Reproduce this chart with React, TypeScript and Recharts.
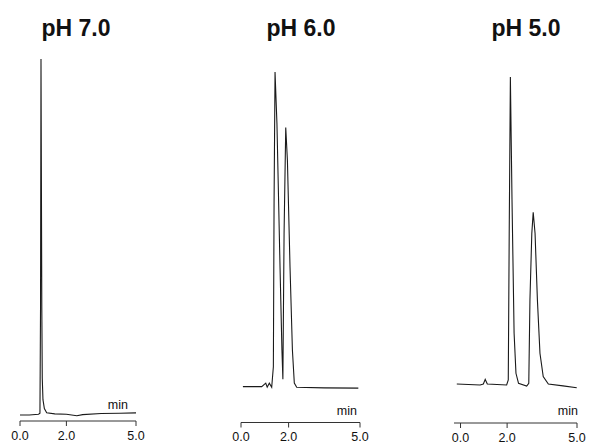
import React from "react";
import { LineChart, Line, XAxis, YAxis } from "recharts";

const W = 589;
const H = 446;
const FONT = "'Liberation Sans', Arial, Helvetica, sans-serif";

const tickValues = [0, 2, 5];
const panelTitles = ["pH 7.0", "pH 6.0", "pH 5.0"];

// retention time (min) and detector signal (relative, main peak = 100)
const ph7Time = [0.0, 0.4, 0.8, 0.86, 0.885, 0.905, 0.92, 0.94, 0.96, 0.99, 1.05, 1.15, 1.5, 2.0, 2.45, 2.7, 3.5, 4.3, 5.0];
const ph7Signal = [-0.3, -0.3, -0.1, 0.2, 30, 100, 70, 30, 10, 4, 1.5, 0.3, 0, -0.1, -0.5, -0.2, 0.1, 0.2, 0.3];

const ph6Time = [0.08, 0.87, 1.04, 1.1, 1.19, 1.29, 1.36, 1.39, 1.43, 1.51, 1.64, 1.72, 1.76, 1.81, 1.88, 1.95, 2.06, 2.16, 2.24, 2.34, 3.5, 4.93];
const ph6Signal = [0.1, 0.1, 1.2, -0.1, 1.2, -0.1, 6.4, 59, 100, 83.7, 38, 11.7, 2.4, 48.8, 82.4, 72, 38, 11.7, 1.2, -0.1, -0.3, -0.4];

const ph5Time = [-0.16, 0.84, 0.98, 1.06, 1.15, 1.98, 2.05, 2.09, 2.14, 2.21, 2.3, 2.38, 2.49, 2.84, 2.93, 2.98, 3.06, 3.12, 3.2, 3.3, 3.41, 3.55, 3.77, 4.4, 4.99];
const ph5Signal = [0, -0.3, 0, 1.5, 0, -0.3, 1.3, 49, 100, 60, 16.5, 3.5, 0.2, -0.65, 0.2, 27.4, 49, 55.9, 49, 27.4, 10, 2.4, 0, -0.6, -1.2];

const toRows = (ts: number[], vs: number[]) => ts.map((t, i) => ({ t, v: vs[i] }));

type PanelProps = {
  rows: { t: number; v: number }[];
  xDomain: [number, number];
  yDomain: [number, number];
  margin: { top: number; right: number; bottom: number; left: number };
};

const Panel = ({ rows, xDomain, yDomain, margin }: PanelProps) => (
  <div style={{ position: "absolute", left: 0, top: 0, width: W, height: H }}>
    <LineChart width={W} height={H} data={rows} margin={margin}>
      <XAxis
        type="number"
        dataKey="t"
        domain={xDomain}
        ticks={tickValues}
        allowDataOverflow
        height={20}
        tickSize={5}
        tickMargin={5}
        stroke="#333"
        tickFormatter={(v: number) => v.toFixed(1)}
        tick={{ fontSize: 12.5, fill: "#111", fontFamily: FONT }}
      />
      <YAxis hide type="number" domain={yDomain} allowDataOverflow />
      <Line
        type="linear"
        dataKey="v"
        stroke="#1a1a1a"
        strokeWidth={1.1}
        dot={false}
        isAnimationActive={false}
      />
    </LineChart>
  </div>
);

const titleX = [76, 301, 526];
const minLabel = [
  { x: 128, y: 409 },
  { x: 357, y: 415 },
  { x: 578, y: 415 },
];

export default function App() {
  return (
    <div style={{ position: "absolute", left: 0, top: 0, width: W, height: H, background: "#fff", overflow: "hidden" }}>
      <Panel rows={toRows(ph7Time, ph7Signal)} xDomain={[0, 5]} yDomain={[-2, 100]} margin={{ top: 59, right: 453, bottom: 5, left: 20 }} />
      <Panel rows={toRows(ph6Time, ph6Signal)} xDomain={[0, 5]} yDomain={[-11.3, 100]} margin={{ top: 72, right: 229, bottom: 3.5, left: 241 }} />
      <Panel rows={toRows(ph5Time, ph5Signal)} xDomain={[-0.28, 5]} yDomain={[-12.7, 100]} margin={{ top: 77, right: 12, bottom: 3, left: 454 }} />
      <svg width={W} height={H} style={{ position: "absolute", left: 0, top: 0, pointerEvents: "none" }}>
        {panelTitles.map((t, i) => (
          <text key={t} x={titleX[i]} y={36} textAnchor="middle" fontFamily={FONT} fontWeight="bold" fontSize={23} fill="#111">
            {t}
          </text>
        ))}
        {minLabel.map((m, i) => (
          <text key={i} x={m.x} y={m.y} textAnchor="end" fontFamily={FONT} fontSize={12.5} fill="#111">
            min
          </text>
        ))}
      </svg>
    </div>
  );
}
